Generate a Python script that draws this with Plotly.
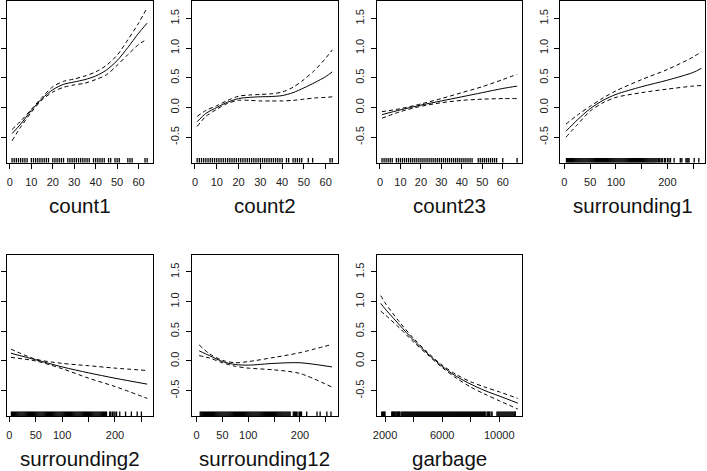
import plotly.graph_objects as go

W, H = 707, 471

# ---------------- data ----------------
names = ["count1", "count2", "count23", "surrounding1",
         "surrounding2", "surrounding12", "garbage"]

count1_x = [1, 5, 10, 15, 20, 25, 30, 35, 40, 45, 50, 55, 60, 64]
count1_fit = [-0.44, -0.28, -0.05, 0.15, 0.30, 0.39, 0.43, 0.47, 0.53, 0.63, 0.79, 1.01, 1.25, 1.42]
count1_up = [-0.37, -0.23, -0.03, 0.17, 0.35, 0.44, 0.48, 0.53, 0.60, 0.71, 0.88, 1.14, 1.42, 1.68]
count1_lo = [-0.56, -0.33, -0.08, 0.13, 0.26, 0.34, 0.38, 0.41, 0.47, 0.55, 0.71, 0.89, 1.06, 1.15]
count1_rug = [1, 2, 3, 4, 5, 6, 7, 8, 10, 11, 12, 13, 14, 15, 16, 17, 18, 20, 21, 22, 23, 24,
              25, 27, 28, 29, 30, 31, 32, 33, 34, 35, 36, 37, 39, 40, 41, 42, 43, 44, 46, 47,
              49, 50, 51, 55, 56, 57, 63, 64]

count2_x = [1, 5, 10, 15, 20, 25, 30, 35, 40, 45, 50, 55, 60, 63]
count2_fit = [-0.24, -0.10, 0.00, 0.09, 0.15, 0.17, 0.18, 0.185, 0.20, 0.25, 0.33, 0.42, 0.52, 0.60]
count2_up = [-0.15, -0.05, 0.03, 0.12, 0.19, 0.21, 0.22, 0.23, 0.26, 0.34, 0.47, 0.63, 0.83, 0.97]
count2_lo = [-0.32, -0.15, -0.03, 0.07, 0.12, 0.12, 0.11, 0.11, 0.11, 0.12, 0.14, 0.16, 0.17, 0.18]
count2_rug = [1, 2, 3, 4, 5, 6, 7, 8, 9, 10, 11, 12, 13, 14, 15, 16, 17, 18, 19, 20, 21, 22,
              23, 24, 25, 26, 27, 28, 29, 30, 31, 32, 33, 34, 35, 36, 37, 38, 39, 40, 42, 43,
              45, 46, 47, 48, 49, 52, 54, 62, 63]

count23_x = [1, 10, 20, 30, 40, 50, 60, 67]
count23_fit = [-0.12, -0.04, 0.04, 0.11, 0.18, 0.25, 0.32, 0.36]
count23_up = [-0.07, -0.02, 0.06, 0.15, 0.25, 0.35, 0.47, 0.56]
count23_lo = [-0.18, -0.07, 0.02, 0.08, 0.12, 0.14, 0.15, 0.15]
count23_rug = [1, 2, 3, 4, 5, 6, 8, 9, 10, 11, 12, 13, 14, 15, 16, 17, 18, 19, 20, 21, 22, 23,
               24, 25, 26, 27, 28, 29, 30, 31, 32, 33, 34, 35, 36, 37, 38, 39, 40, 41, 42, 43,
               44, 45, 48, 49, 50, 51, 52, 53, 54, 55, 56, 57, 60, 67]

surr1_x = [3, 25, 50, 75, 100, 150, 200, 250, 266]
surr1_fit = [-0.40, -0.21, -0.02, 0.12, 0.22, 0.35, 0.46, 0.59, 0.66]
surr1_up = [-0.28, -0.13, 0.02, 0.16, 0.28, 0.47, 0.64, 0.85, 0.94]
surr1_lo = [-0.50, -0.29, -0.06, 0.08, 0.17, 0.25, 0.31, 0.36, 0.37]
surr1_rug = [4, 6, 8, 10, 12, 14, 16, 18, 20, 22, 24, 26, 28, 30, 32, 34, 36, 38, 40, 42, 44,
             46, 48, 50, 52, 54, 56, 58, 60, 62, 64, 66, 68, 70, 72, 74, 76, 78, 80, 82, 84,
             86, 88, 90, 92, 94, 96, 98, 100, 102, 104, 106, 108, 110, 112, 114, 116, 118,
             120, 122, 124, 126, 128, 130, 132, 134, 136, 138, 140, 142, 144, 146, 148, 150,
             152, 154, 156, 158, 160, 162, 164, 166, 168, 170, 172, 174, 176, 178, 180,
             183, 185, 188, 190, 194, 196, 200, 203, 206, 213, 225, 228, 236, 238, 240, 242,
             252, 261]

surr2_x = [3, 50, 100, 150, 200, 261]
surr2_fit = [0.13, 0.02, -0.10, -0.20, -0.29, -0.39]
surr2_up = [0.20, 0.03, -0.04, -0.08, -0.12, -0.16]
surr2_lo = [0.06, 0.00, -0.13, -0.29, -0.43, -0.63]
surr2_rug = [4, 6, 8, 10, 12, 14, 16, 18, 20, 22, 24, 26, 28, 30, 32, 34, 36, 38, 40, 42, 44,
             46, 48, 50, 52, 54, 56, 58, 60, 62, 64, 66, 68, 70, 72, 74, 76, 78, 80, 82, 84,
             86, 88, 90, 92, 94, 96, 98, 100, 102, 104, 106, 108, 110, 112, 114, 116, 118,
             120, 122, 124, 126, 128, 130, 132, 134, 136, 138, 140, 142, 144, 146, 148, 150,
             152, 154, 156, 158, 160, 162, 164, 166, 168, 170, 172, 174, 176, 178, 180, 182,
             184, 190, 192, 195, 198, 200, 203, 209, 220, 231, 242, 250]

surr12_x = [5, 25, 50, 75, 100, 150, 200, 262]
surr12_fit = [0.17, 0.09, -0.01, -0.06, -0.07, -0.04, -0.03, -0.10]
surr12_up = [0.27, 0.12, 0.01, -0.03, -0.01, 0.06, 0.14, 0.28]
surr12_lo = [0.09, 0.05, -0.03, -0.09, -0.12, -0.15, -0.21, -0.44]
surr12_rug = [7, 9, 11, 13, 15, 17, 19, 21, 23, 25, 27, 29, 31, 33, 35, 37, 39, 41, 43, 45, 47,
              49, 51, 53, 55, 57, 59, 61, 63, 65, 67, 69, 71, 73, 75, 77, 79, 81, 83, 85, 87,
              89, 91, 93, 95, 97, 99, 101, 103, 105, 107, 109, 111, 113, 115, 117, 119, 121,
              123, 125, 127, 129, 131, 133, 135, 137, 139, 141, 143, 145, 147, 149, 151, 153,
              155, 157, 159, 161, 163, 165, 167, 169, 171, 173, 175, 177, 179, 181,
              187, 189, 191, 193, 196, 199, 201, 203, 213, 233, 239, 252, 260]

garb_x = [1700, 2000, 3000, 4000, 5000, 6000, 7000, 8000, 9000, 10000, 11300]
garb_fit = [0.97, 0.88, 0.61, 0.35, 0.12, -0.09, -0.26, -0.39, -0.50, -0.59, -0.71]
garb_up = [1.10, 0.98, 0.66, 0.38, 0.14, -0.07, -0.23, -0.35, -0.44, -0.52, -0.63]
garb_lo = [0.84, 0.78, 0.56, 0.32, 0.10, -0.11, -0.29, -0.44, -0.56, -0.67, -0.81]
garb_rug = [1770, 1830, 1890, 1950, 2000, 2470, 2530, 2590, 2650, 2710, 2770, 2830, 2890,
            2950, 3010, 3050, 3170, 3240, 3310, 3380, 3450, 3520, 3590, 3660, 3730, 3800,
            3870, 3940, 4010, 4080, 4150, 4220, 4290, 4360, 4430, 4500, 4570, 4640, 4710,
            4780, 4850, 4920, 4990, 5060, 5130, 5200, 5270, 5340, 5410, 5480, 5550, 5620,
            5690, 5760, 5830, 5900, 5970, 6040, 6110, 6180, 6250, 6320, 6390, 6460, 6530,
            6600, 6670, 6740, 6810, 6880, 6950, 7020, 7090, 7160, 7230, 7300, 7370, 7440,
            7510, 7580, 7650, 7720, 7790, 7860, 7930, 8000, 8070, 8140, 8210, 8280, 8350,
            8420, 8490, 8560, 8630, 8700, 8770, 8840, 8910, 8980, 9010, 9140, 9200, 9260,
            9320, 9430, 9500, 9840, 9910, 9980, 10050, 10120, 10190, 10260, 10330, 10400,
            10470, 10540, 10610, 10680, 10750, 10820, 10890, 10960, 11030, 11100, 11120]

count_ticks = [0, 10, 20, 30, 40, 50, 60]
count_labels = ["0", "10", "20", "30", "40", "50", "60"]
surr_ticks = [0, 50, 100, 150, 200, 250]
surr_labels = ["0", "50", "100", "", "200", ""]
garb_ticks = [2000, 4000, 6000, 8000, 10000]
garb_labels = ["2000", "", "6000", "", "10000"]
y_ticks = [-0.5, 0.0, 0.5, 1.0, 1.5]
y_labels = ["-0.5", "0.0", "0.5", "1.0", "1.5"]

# ---------------- layout geometry (page pixels) ----------------
panels = [
    (count1_x, count1_fit, count1_up, count1_lo, count1_rug, [-1.5, 66.5], count_ticks, count_labels),
    (count2_x, count2_fit, count2_up, count2_lo, count2_rug, [-1.5, 65.5], count_ticks, count_labels),
    (count23_x, count23_fit, count23_up, count23_lo, count23_rug, [-1.6, 69.4], count_ticks, count_labels),
    (surr1_x, surr1_fit, surr1_up, surr1_lo, surr1_rug, [-8, 273], surr_ticks, surr_labels),
    (surr2_x, surr2_fit, surr2_up, surr2_lo, surr2_rug, [-5, 271], surr_ticks, surr_labels),
    (surr12_x, surr12_fit, surr12_up, surr12_lo, surr12_rug, [-9.5, 273], surr_ticks, surr_labels),
    (garb_x, garb_fit, garb_up, garb_lo, garb_rug, [1417, 11593], garb_ticks, garb_labels),
]
cols = [(6.7, 152.5), (191.7, 337.7), (376.7, 522.0), (560.3, 705.0)]
rows = [(1.2, 162.7), (254.7, 416.2)]
YR = [-0.93, 1.79]
RUG_LEN = 0.078


def px_x(p):
    return p / W


def px_y(p):
    return 1 - p / H


FONT = "Liberation Sans, Arial, sans-serif"

fig = go.Figure()
annotations = []
layout = dict(width=W, height=H, margin=dict(l=0, r=0, t=0, b=0, pad=0, autoexpand=False),
              template="none",
              paper_bgcolor="white", plot_bgcolor="white", showlegend=False)

for i, (xs, fit, up, lo, rug, xr, tv, tt) in enumerate(panels):
    r, c = divmod(i, 4)
    x0, x1 = cols[c]
    y0, y1 = rows[r]
    k = "" if i == 0 else str(i + 1)
    xa, ya = "x" + k, "y" + k
    layout["xaxis" + k] = dict(
        domain=[px_x(x0), px_x(x1)], range=xr, anchor=ya,
        automargin=False,
        showline=True, mirror=True, linecolor="black", linewidth=1,
        ticks="outside", ticklen=5, tickwidth=1, tickcolor="black",
        tickvals=tv, ticktext=tt, showgrid=False, zeroline=False,
        ticklabelstandoff=4,
        tickfont=dict(family=FONT, size=11, color="#222"), fixedrange=True)
    # the left-most panels have their y labels outside the page (as in the reference)
    layout["yaxis" + k] = dict(
        domain=[px_y(y1), px_y(y0)], range=YR, anchor=xa,
        automargin=False,
        showline=True, mirror=True, linecolor="black", linewidth=1,
        ticks="outside", ticklen=5, tickwidth=1, tickcolor="black",
        tickvals=y_ticks, ticktext=y_labels, tickangle=-90,
        showticklabels=(c != 0),
        showgrid=False, zeroline=False, ticklabelstandoff=2,
        tickfont=dict(family=FONT, size=11, color="#222"), fixedrange=True)

    # rug
    rx, ry = [], []
    for v in rug:
        rx += [v, v, None]
        ry += [YR[0], YR[0] + RUG_LEN, None]
    fig.add_trace(go.Scatter(x=rx, y=ry, mode="lines", xaxis=xa, yaxis=ya,
                             line=dict(color="black", width=1.3), hoverinfo="skip"))
    for ys, dash in ((up, "4px,3px"), (lo, "4px,3px"), (fit, "solid")):
        fig.add_trace(go.Scatter(x=xs, y=ys, mode="lines", xaxis=xa, yaxis=ya,
                                 line=dict(color="black", width=1, dash=dash,
                                           shape="spline", smoothing=0.8)))
    annotations.append(dict(text=names[i], xref="paper", yref="paper",
                            x=px_x((x0 + x1) / 2), y=px_y(y1 + 42.5),
                            xanchor="center", yanchor="middle", showarrow=False,
                            font=dict(family=FONT, size=20.5, color="#111")))

layout["annotations"] = annotations
fig.update_layout(**layout)
fig.write_html("out.html",
               config={"displayModeBar": False, "staticPlot": True},
               post_script="document.body.style.margin='0px';"
                           "document.body.style.overflow='hidden';")
